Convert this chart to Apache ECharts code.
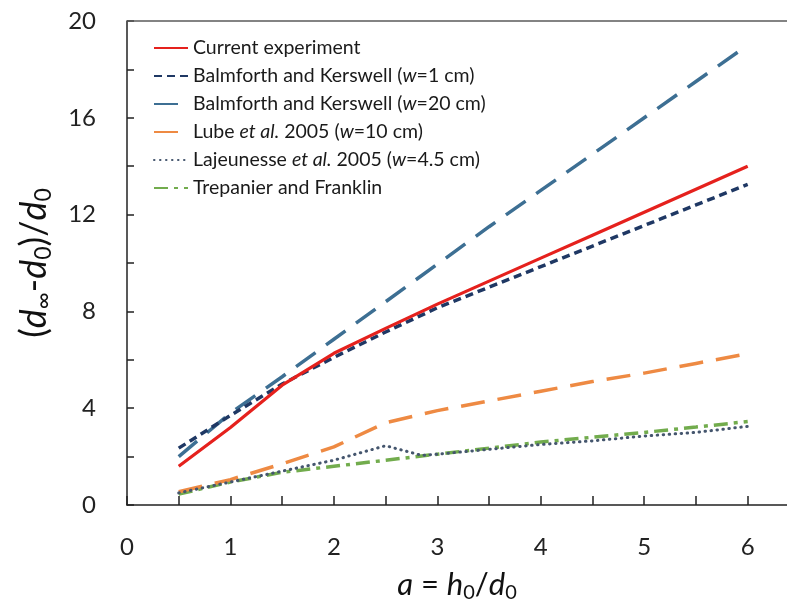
<!DOCTYPE html>
<html>
<head>
<meta charset="utf-8">
<script src="https://cdn.jsdelivr.net/npm/echarts@6/dist/echarts.min.js"></script>
<style>html,body{margin:0;padding:0;background:#fff}#c{width:787px;height:612px}</style>
</head>
<body>
<div id="c"></div>
<script>
// ---- data ----
var xs = [0.5, 1, 1.5, 2, 2.5, 3, 3.5, 4, 4.5, 5, 5.5, 6];
var currentExp = [1.6, 3.2, 4.95, 6.27, 7.3, 8.3, 9.25, 10.2, 11.15, 12.1, 13.05, 14.0];
var bkW1 = [2.35, 3.7, 5.0, 6.1, 7.15, 8.15, 9.0, 9.85, 10.7, 11.55, 12.4, 13.25];
var bkW20 = [2.0, 3.8, 5.3, 6.85, 8.4, 9.95, 11.5, 13.0, 14.5, 16.0, 17.5, 19.0];
var lube = [0.55, 1.05, 1.7, 2.4, 3.4, 3.9, 4.3, 4.7, 5.1, 5.45, 5.85, 6.25];
var lajX = [0.5, 1, 1.5, 2, 2.5, 2.85, 3, 3.5, 4, 4.5, 5, 5.5, 6];
var laj = [0.5, 0.95, 1.4, 1.85, 2.45, 2.05, 2.1, 2.3, 2.5, 2.65, 2.85, 3.0, 3.25];
var trep = [0.45, 0.95, 1.35, 1.6, 1.85, 2.1, 2.35, 2.6, 2.8, 3.0, 3.22, 3.45];
var seriesNames = ['Current experiment', 'Balmforth and Kerswell (w=1 cm)', 'Balmforth and Kerswell (w=20 cm)',
  'Lube et al. 2005 (w=10 cm)', 'Lajeunesse et al. 2005 (w=4.5 cm)', 'Trepanier and Franklin'];
var legendRich = [
  '{n|Current experiment}',
  '{n|Balmforth and Kerswell (}{i|w}{n|=1 cm)}',
  '{n|Balmforth and Kerswell (}{i|w}{n|=20 cm)}',
  '{n|Lube }{i|et al.}{n| 2005 (}{i|w}{n|=10 cm)}',
  '{n|Lajeunesse }{i|et al.}{n| 2005 (}{i|w}{n|=4.5 cm)}',
  '{n|Trepanier and Franklin}'
];
var xTicks = [0, 1, 2, 3, 4, 5, 6];
var yTicks = [0, 4, 8, 12, 16, 20];
var yTop = 20;

function pairs(x, y) { return y.map(function (v, i) { return [x[i], v]; }); }

var FONT = 'Lato';
var LF = 19.5;
var chart = echarts.init(document.getElementById('c'), null, { renderer: 'canvas' });
var option = {
  backgroundColor: '#fff',
  animation: false,
  textStyle: { fontFamily: FONT },
  grid: { left: 127, top: 21, width: 660, height: 484, outerBoundsMode: 'none', containLabel: false },
  legend: {
    orient: 'vertical', left: 153, top: 38, padding: 0,
    itemWidth: 34, itemHeight: 20, itemGap: 8,
    data: seriesNames,
    itemStyle: { opacity: 0 },
    formatter: function (name) { return legendRich[seriesNames.indexOf(name)]; },
    textStyle: {
      fontFamily: FONT, fontSize: LF, color: '#1a1a1a',
      rich: {
        n: { fontFamily: FONT, fontSize: LF, color: '#1a1a1a' },
        i: { fontFamily: FONT, fontSize: LF, color: '#1a1a1a', fontStyle: 'italic' }
      }
    }
  },
  xAxis: {
    type: 'value', min: 0, max: 6.38, interval: 0.5, position: 'bottom',
    splitLine: { show: false },
    axisLine: { show: true, lineStyle: { color: '#222', width: 1.5 } },
    axisTick: { inside: true, length: 9, lineStyle: { color: '#222', width: 1.5 } },
    axisLabel: {
      margin: 30, fontSize: 24, color: '#222', fontFamily: FONT, showMaxLabel: false,
      formatter: function (v) { return xTicks.indexOf(v) >= 0 ? String(v) : ''; }
    },
    name: '{i|a}{n| = }{i|h}{s|0}{n|/}{i|d}{s|0}',
    nameLocation: 'middle', nameGap: 62,
    nameTextStyle: {
      rich: {
        n: { fontFamily: FONT, fontSize: 31, color: '#111' },
        i: { fontFamily: FONT, fontSize: 31, color: '#111', fontStyle: 'italic' },
        s: { fontFamily: FONT, fontSize: 20, color: '#111', padding: [16, 0, 0, 0] }
      }
    }
  },
  yAxis: {
    type: 'value', min: 0, max: yTop, interval: 2,
    splitLine: { show: false },
    axisLine: { lineStyle: { color: '#222', width: 1.5 } },
    axisTick: { inside: true, length: 7, lineStyle: { color: '#222', width: 1.5 } },
    axisLabel: {
      margin: 31, fontSize: 24, color: '#222', fontFamily: FONT,
      formatter: function (v) { return yTicks.indexOf(v) >= 0 ? String(v) : ''; }
    },
    name: '{n|(}{i|d}{s|∞}{n|-}{i|d}{s|0}{n|)/}{i|d}{s|0}',
    nameLocation: 'middle', nameGap: 72, nameRotate: 90,
    nameTextStyle: {
      rich: {
        n: { fontFamily: FONT, fontSize: 36, color: '#111' },
        i: { fontFamily: FONT, fontSize: 36, color: '#111', fontStyle: 'italic' },
        s: { fontFamily: FONT, fontSize: 23, color: '#111', padding: [18, 0, 0, 0] }
      }
    }
  },
  series: [
    { name: seriesNames[0], type: 'line', symbol: 'none', data: pairs(xs, currentExp), z: 6,
      lineStyle: { color: '#e5211d', width: 3.2 }, itemStyle: { color: '#e5211d' },
      markLine: { silent: true, symbol: 'none', label: { show: false }, animation: false,
        lineStyle: { color: '#5a5a5a', width: 1.5, type: 'solid' },
        emphasis: { disabled: true },
        data: [{ yAxis: yTop }] } },
    { name: seriesNames[1], type: 'line', symbol: 'none', data: pairs(xs, bkW1), z: 5,
      lineStyle: { color: '#1f3864', width: 3.5, type: [8, 5] }, itemStyle: { color: '#1f3864' } },
    { name: seriesNames[2], type: 'line', symbol: 'none', data: pairs(xs, bkW20), z: 4,
      lineStyle: { color: '#3d6f93', width: 3.5, type: [24, 13] }, itemStyle: { color: '#3d6f93' } },
    { name: seriesNames[3], type: 'line', symbol: 'none', data: pairs(xs, lube), z: 4,
      lineStyle: { color: '#ee8a43', width: 3.5, type: [24, 13] }, itemStyle: { color: '#ee8a43' } },
    { name: seriesNames[4], type: 'line', symbol: 'none', data: pairs(lajX, laj), z: 5,
      lineStyle: { color: '#45566e', width: 3, type: [0.5, 5.5], cap: 'round' }, itemStyle: { color: '#45566e' } },
    { name: seriesNames[5], type: 'line', symbol: 'none', data: pairs(xs, trep), z: 3,
      lineStyle: { color: '#72ac4d', width: 3.5, type: [14, 6, 4, 6] }, itemStyle: { color: '#72ac4d' } }
  ]
};
chart.setOption(option);
</script>
</body>
</html>
